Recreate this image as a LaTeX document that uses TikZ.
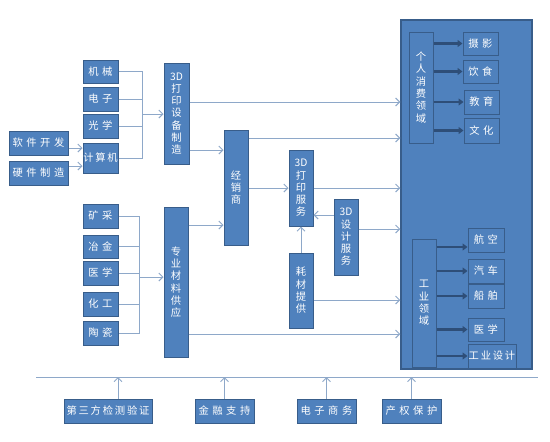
\documentclass[tikz,border=0pt]{standalone}
\usepackage{fontspec}
\newfontfamily\cjk{Noto Sans CJK SC}
\newcommand\gap{\hspace{3.5pt}}
\newcommand\sgap{\hspace{1.8pt}}
\usetikzlibrary{arrows.meta}
\definecolor{boxblue}{HTML}{4F81BD}
\definecolor{boxline}{HTML}{385D8A}
\definecolor{linkblue}{HTML}{8EA8C9}
\definecolor{darkarrow}{HTML}{2E4E78}
\tikzset{
  box/.style={draw=boxline, line width=1pt, fill=boxblue, text=white, inner sep=0pt,
    align=center, font=\cjk\fontsize{10.3}{12.3}\selectfont},
  link/.style={draw=linkblue, line width=1pt, -{Straight Barb[length=4pt,width=8pt]}},
  bus/.style={draw=linkblue, line width=1pt},
  inner/.style={draw=darkarrow, line width=2.5pt, -{Triangle[length=5pt,width=7pt]}},
}
\begin{document}
\begin{tikzpicture}[x=1pt,y=-1pt]
\useasboundingbox[fill=white] (0,0) rectangle (550,442);

% big field box
\node[box, line width=1.5pt, minimum width=131pt, minimum height=349pt] (big) at (466.5,194.5) {};

% left inputs
\node[box, minimum width=35pt, minimum height=23pt] (jixie) at (100.5,71.5) {机\gap 械};
\node[box, minimum width=35pt, minimum height=24pt] (dianzi) at (100.5,99) {电\gap 子};
\node[box, minimum width=35pt, minimum height=24pt] (guangxue) at (100.5,126) {光\gap 学};
\node[box, minimum width=35pt, minimum height=30pt] (jisuanji) at (100.5,158) {计\sgap 算\sgap 机};
\node[box, minimum width=59pt, minimum height=24pt] (ruanjian) at (38.5,143) {软\gap 件\gap 开\gap 发};
\node[box, minimum width=59pt, minimum height=24pt] (yingjian) at (38.5,173) {硬\gap 件\gap 制\gap 造};

\node[box, minimum width=35pt, minimum height=24pt] (kuangcai) at (100.5,216) {矿\gap 采};
\node[box, minimum width=35pt, minimum height=23pt] (yejin) at (100.5,246.5) {冶\gap 金};
\node[box, minimum width=35pt, minimum height=24pt] (yixue) at (100.5,273) {医\gap 学};
\node[box, minimum width=35pt, minimum height=24pt] (huagong) at (100.5,304) {化\gap 工};
\node[box, minimum width=35pt, minimum height=24pt] (taoci) at (100.5,333) {陶\gap 瓷};

% middle chain
\node[box, minimum width=25pt, minimum height=101pt] (shebei) at (176.5,113.5) {3D\\打\\印\\设\\备\\制\\造};
\node[box, minimum width=24pt, minimum height=150pt] (cailiao) at (176,282) {专\\业\\材\\料\\供\\应};
\node[box, minimum width=24pt, minimum height=115pt] (jingxiao) at (236,187.5) {经\\销\\商};
\node[box, minimum width=24pt, minimum height=76pt] (fuwu) at (301,188) {3D\\打\\印\\服\\务};
\node[box, minimum width=24pt, minimum height=76pt] (sheji) at (346,237) {3D\\设\\计\\服\\务};
\node[box, minimum width=24pt, minimum height=75pt] (haocai) at (301,290.5) {耗\\材\\提\\供};

% fields
\node[box, minimum width=24pt, minimum height=111pt] (geren) at (421,87.5) {个\\人\\消\\费\\领\\域};
\node[box, minimum width=35pt, minimum height=23pt] (sheying) at (480.5,43.5) {摄\gap 影};
\node[box, minimum width=35pt, minimum height=23pt] (yinshi) at (480.5,71.5) {饮\gap 食};
\node[box, minimum width=35pt, minimum height=24pt] (jiaoyu) at (481.5,102) {教\gap 育};
\node[box, minimum width=35pt, minimum height=25pt] (wenhua) at (481.5,130.5) {文\gap 化};
\node[box, minimum width=24pt, minimum height=128pt] (gongye) at (424,303) {工\\业\\领\\域};
\node[box, minimum width=36pt, minimum height=24pt] (hangkong) at (486,240) {航\gap 空};
\node[box, minimum width=36pt, minimum height=24pt] (qiche) at (486,271) {汽\gap 车};
\node[box, minimum width=36pt, minimum height=24pt] (chuanbo) at (486,296) {船\gap 舶};
\node[box, minimum width=36pt, minimum height=23pt] (yixueb) at (486,329.5) {医\gap 学};
\node[box, minimum width=48pt, minimum height=24pt] (gysheji) at (492,356) {工\sgap 业\sgap 设\sgap 计};

% support row
\node[box, minimum width=88pt, minimum height=24pt] (jiance) at (108,411) {第\sgap 三\sgap 方\sgap 检\sgap 测\sgap 验\sgap 证};
\node[box, minimum width=59pt, minimum height=24pt] (jinrong) at (224.5,411) {金\gap 融\gap 支\gap 持};
\node[box, minimum width=59pt, minimum height=24pt] (dianshang) at (326.5,411) {电\gap 子\gap 商\gap 务};
\node[box, minimum width=59pt, minimum height=24pt] (chanquan) at (411.5,411) {产\gap 权\gap 保\gap 护};
\coordinate (bl) at (36,377);
\coordinate (br) at (538,377);
\draw[bus] (bl) -- (br);
\draw[link] ([xshift=10pt]jiance.north) -- ([xshift=10pt]jiance.north |- bl);
\draw[link] (jinrong.north) -- (jinrong.north |- bl);
\draw[link] (dianshang.north) -- (dianshang.north |- bl);
\draw[link] (chanquan.north) -- (chanquan.north |- bl);

% equipment bus
\draw[bus] (jixie.east) -- (142,71.5) -- (142,158) -- (jisuanji.east);
\draw[bus] (dianzi.east) -- (142,99);
\draw[bus] (guangxue.east) -- (142,126);
\draw[link] (142,114) -- (shebei.west |- 0,114);
\draw[link] (ruanjian.east |- 0,148) -- (jisuanji.west |- 0,148);
\draw[link] (yingjian.east |- 0,166) -- (jisuanji.west |- 0,166);

% material bus
\draw[bus] (kuangcai.east) -- (139,216) -- (139,333) -- (taoci.east);
\draw[bus] (yejin.east) -- (139,246.5);
\draw[bus] (yixue.east) -- (139,273);
\draw[bus] (huagong.east) -- (139,304);
\draw[link] (139,277) -- (cailiao.west |- 0,277);

% chain links
\draw[link] (shebei.east |- 0,102) -- (big.west |- 0,102);
\draw[link] (shebei.east |- 0,150) -- (jingxiao.west |- 0,150);
\draw[link] (jingxiao.east |- 0,138) -- (big.west |- 0,138);
\draw[link] (jingxiao.east |- 0,188) -- (fuwu.west |- 0,188);
\draw[link] (fuwu.east |- 0,188) -- (big.west |- 0,188);
\draw[link] (sheji.west |- 0,215) -- (fuwu.east |- 0,215);
\draw[link] (sheji.east |- 0,229) -- (big.west |- 0,229);
\draw[link] (haocai.north) -- (fuwu.south);
\draw[link] (haocai.east |- 0,300) -- (big.west |- 0,300);
\draw[link] (cailiao.east |- 0,225) -- (jingxiao.west |- 0,225);
\draw[link] (cailiao.east |- 0,334) -- (big.west |- 0,334);

% field arrows
\foreach \t in {sheying,yinshi,jiaoyu,wenhua}
  \draw[inner] (geren.east |- \t.west) -- (\t.west);
\draw[inner] (gongye.east |- 0,247) -- (hangkong.west |- 0,247);
\foreach \t in {qiche,chuanbo,yixueb,gysheji}
  \draw[inner] (gongye.east |- \t.west) -- (\t.west);
\end{tikzpicture}
\end{document}
